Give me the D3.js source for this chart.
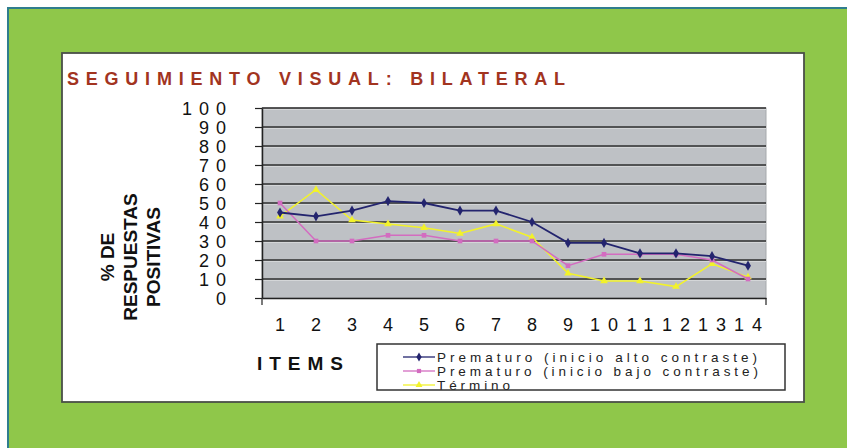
<!DOCTYPE html>
<html><head><meta charset="utf-8">
<script src="https://cdn.jsdelivr.net/npm/d3@7"></script>
<style>
html,body{margin:0;padding:0;background:#fff;}
svg{display:block;}
text{font-family:"Liberation Sans",Arial,sans-serif;}
</style></head>
<body>
<script>
const items = ["1","2","3","4","5","6","7","8","9","10","11","12","13","14"];
const altoContraste = [45,43,46,51,50,46,46,40,29,29,23.5,23.5,22,17];
const bajoContraste = [50,30,30,33,33,30,30,30,17,23,23,23,20,10];
const termino = [43,57,41,39,37,34,39,32,13,9,9,6,18,11];
const yTicks = [0,10,20,30,40,50,60,70,80,90,100];
const seriesNames = ["Prematuro (inicio alto contraste)","Prematuro (inicio bajo contraste)","Término"];
const titleText = "SEGUIMIENTO VISUAL: BILATERAL";
const yLabelLines = ["% DE","RESPUESTAS","POSITIVAS"];
const xLabel = "ITEMS";

const W = 847, H = 448;
const svg = d3.select("body").append("svg").attr("width", W).attr("height", H);

// outer frame
svg.append("rect").attr("x",0).attr("y",0).attr("width",W).attr("height",H).attr("fill","#fff");
svg.append("rect").attr("x",8).attr("y",8).attr("width",W).attr("height",H).attr("fill","#8fc74a")
  .attr("stroke","#2f7d8e").attr("stroke-width",2);

// white panel
svg.append("rect").attr("x",62).attr("y",53).attr("width",742).attr("height",349)
  .attr("fill","#fff").attr("stroke","#4a4f48").attr("stroke-width",1.8);

// title
svg.append("text").attr("x",67).attr("y",85).text(titleText)
  .attr("fill","#a2341f").attr("font-weight","bold").attr("font-size",18)
  .attr("textLength",498).attr("lengthAdjust","spacing");

const px0 = 262, px1 = 766, py0 = 298, py1 = 108;
const x = d3.scaleBand().domain(items).range([px0, px1]);
const y = d3.scaleLinear().domain([0,100]).range([py0, py1]);

// plot bg
svg.append("rect").attr("x",px0).attr("y",py1).attr("width",px1-px0).attr("height",py0-py1)
  .attr("fill","#bec1c5").attr("stroke","#a6a9ac").attr("stroke-width",1);

// gridlines
const grid = svg.append("g");
grid.selectAll("line.hl").data(yTicks.filter(d=>d>0)).join("line")
  .attr("x1",px0).attr("x2",px1).attr("y1",d=>y(d)+1.5).attr("y2",d=>y(d)+1.5)
  .attr("stroke","#d4d6d8").attr("stroke-width",1);
grid.selectAll("line.g").data(yTicks.filter(d=>d>0)).join("line")
  .attr("x1",px0).attr("x2",px1).attr("y1",d=>y(d)).attr("y2",d=>y(d))
  .attr("stroke","#2e2e2e").attr("stroke-width",1.6);

// y axis
const yAxis = svg.append("g").attr("transform",`translate(${px0},0)`)
  .call(d3.axisLeft(y).tickValues(yTicks).tickSize(7).tickPadding(29).tickSizeOuter(0));
yAxis.select(".domain").attr("stroke","#222").attr("stroke-width",1.5);
yAxis.selectAll(".tick line").attr("stroke","#222").attr("stroke-width",1.2);
yAxis.selectAll(".tick text").attr("font-size",18).attr("fill","#111")
  .attr("letter-spacing","7px").attr("font-family","'Liberation Sans',Arial,sans-serif")
  .attr("dx","7px").attr("dy","0.36em");

// x axis
const xAxis = svg.append("g").attr("transform",`translate(0,${py0})`)
  .call(d3.axisBottom(x).tickSize(0).tickPadding(20));
xAxis.select(".domain").attr("stroke","#222").attr("stroke-width",1.5);
xAxis.selectAll(".tick text").attr("font-size",18).attr("fill","#111")
  .attr("letter-spacing","8px").attr("dx","4px").attr("font-family","'Liberation Sans',Arial,sans-serif");
[px0, px1].forEach(xx => svg.append("line").attr("x1",xx).attr("x2",xx).attr("y1",py0).attr("y2",py0+7)
  .attr("stroke","#222").attr("stroke-width",1.2));

// y label
const yl = svg.append("text").attr("transform","translate(130,257) rotate(-90)")
  .attr("text-anchor","middle").attr("font-weight","bold").attr("font-size",19).attr("fill","#111");
yLabelLines.forEach((t,i)=> yl.append("tspan").attr("x",0).attr("y",(i-1)*23).attr("dy","0.35em").text(t));

// x label
svg.append("text").attr("x",257).attr("y",370).text(xLabel)
  .attr("font-weight","bold").attr("font-size",19).attr("fill","#111")
  .attr("textLength",86).attr("lengthAdjust","spacing");

// series
const series = [
  {name: seriesNames[0], values: altoContraste, color:"#23246e", shape: d3.symbolDiamond, size: 30, w: 1.8},
  {name: seriesNames[1], values: bajoContraste, color:"#d36cc0", shape: d3.symbolSquare, size: 22, w: 1.5},
  {name: seriesNames[2], values: termino, color:"#f2f22a", shape: d3.symbolTriangle, size: 26, w: 1.5}
];
const line = d3.line().x((d,i)=>x(items[i])+x.bandwidth()/2).y(d=>y(d));
[...series].reverse().forEach(s=>{
  svg.append("path").datum(s.values).attr("d",line).attr("fill","none")
    .attr("stroke",s.color).attr("stroke-width",s.w);
  svg.selectAll(null).data(s.values).join("path")
    .attr("transform",(d,i)=>`translate(${x(items[i])+x.bandwidth()/2},${y(d)})`)
    .attr("d",d3.symbol().type(s.shape).size(s.size)).attr("fill",s.color);
});

// legend
const lg = svg.append("g");
lg.append("clipPath").attr("id","lgclip").append("rect").attr("x",377).attr("y",344).attr("width",408).attr("height",46);
const lgc = lg.append("g").attr("clip-path","url(#lgclip)");
lgc.append("rect").attr("x",377).attr("y",344).attr("width",408).attr("height",46).attr("fill","#fff");
const legendLens = [320, 321, 73];
series.forEach((s,i)=>{
  const cy = 357 + i*14;
  lgc.append("line").attr("x1",403).attr("x2",435).attr("y1",cy).attr("y2",cy).attr("stroke",s.color).attr("stroke-width",1.3);
  lgc.append("path").attr("transform",`translate(419,${cy})`).attr("d",d3.symbol().type(s.shape).size(s.size*0.8)).attr("fill",s.color);
  lgc.append("text").attr("x",437).attr("y",cy+5).text(s.name)
    .attr("font-family","'Liberation Sans Narrow','Liberation Sans',Arial,sans-serif")
    .attr("font-size",13.5).attr("fill","#222")
    .attr("textLength",legendLens[i]).attr("lengthAdjust","spacing");
});
lg.append("rect").attr("x",377).attr("y",344).attr("width",408).attr("height",46)
  .attr("fill","none").attr("stroke","#333").attr("stroke-width",1.5);
</script>
</body></html>
